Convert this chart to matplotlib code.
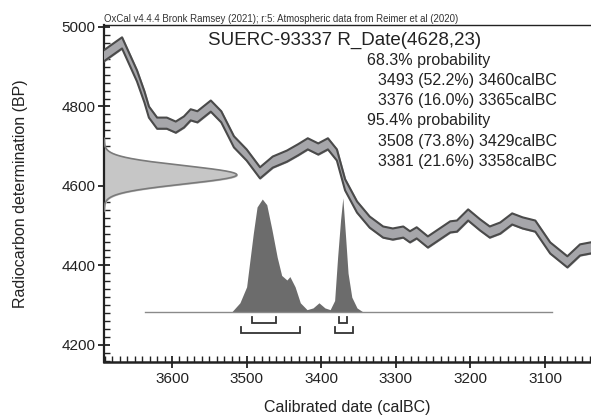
import numpy as np
import matplotlib
matplotlib.use("Agg")
import matplotlib.pyplot as plt
from matplotlib.ticker import MultipleLocator

plt.rcParams['font.family'] = ['Liberation Sans', 'DejaVu Sans']

# ---------------- data ----------------
# Calibration curve (IntCal20): calBC, BP centre
curve_bc = [3691, 3667, 3647, 3637, 3631, 3620, 3607, 3595, 3584, 3575, 3566,
            3548, 3534, 3517, 3500, 3482, 3465, 3446, 3431, 3418, 3404, 3391,
            3379, 3368, 3352, 3335, 3317, 3304, 3290, 3281, 3272, 3257, 3227,
            3218, 3203, 3187, 3174, 3160, 3144, 3130, 3113, 3093, 3070, 3053,
            3039]
curve_bp = [4928, 4960, 4877, 4824, 4786, 4758, 4758, 4748, 4761, 4779, 4774,
            4801, 4774, 4711, 4678, 4633, 4660, 4675, 4691, 4706, 4693, 4706,
            4678, 4603, 4547, 4509, 4484, 4479, 4484, 4472, 4482, 4459, 4497,
            4499, 4527, 4502, 4484, 4494, 4517, 4507, 4499, 4444, 4409, 4439,
            4444]
curve_err = 14

# Radiocarbon measurement
r_mean = 4628
r_sd = 23

# Posterior (calibrated) distribution, relative height
post_bc = [3636, 3520, 3509, 3500, 3496, 3491, 3486, 3479, 3473, 3466, 3459,
           3453, 3446, 3442, 3435, 3428, 3419, 3411, 3403, 3395, 3388, 3382,
           3378, 3374, 3371, 3367, 3364, 3359, 3352, 3344, 3091]
post_p = [0, 0, 0.08, 0.22, 0.43, 0.69, 0.92, 0.99, 0.94, 0.72, 0.48,
          0.32, 0.28, 0.31, 0.22, 0.08, 0.02, 0.035, 0.08, 0.035, 0.02, 0.1,
          0.48, 0.81, 1.0, 0.63, 0.34, 0.13, 0.035, 0, 0]

# Probability ranges
r68 = [(3493, 3460), (3376, 3365)]
r95 = [(3508, 3429), (3381, 3358)]
r68_pct = [52.2, 16.0]
r95_pct = [73.8, 21.6]

title = "SUERC-93337 R_Date(4628,23)"
header = "OxCal v4.4.4 Bronk Ramsey (2021); r:5: Atmospheric data from Reimer et al (2020)"

# ---------------- plot ----------------
W, H = 591, 415
fig = plt.figure(figsize=(W/100, H/100), dpi=100)
ax = fig.add_axes([104/W, 53/H, 487/W, 337/H])
ax.set_xlim(3691.2, 3038.3)
ax.set_ylim(4157, 5005)

# measurement gaussian on the y-axis
yy = np.linspace(r_mean - 4*r_sd, r_mean + 4*r_sd, 300)
g = np.exp(-0.5*((yy - r_mean)/r_sd)**2)
xl = 3691.2
ax.fill_betweenx(yy, xl, xl - 178*g, color='#c6c6c6', zorder=2)
ax.plot(xl - 178*g, yy, color='#7a7a7a', lw=1.2, zorder=3)

# calibration curve band
cb = np.array(curve_bc); cp = np.array(curve_bp)
ax.fill_between(cb, cp - curve_err, cp + curve_err, color='#a6a6aa', zorder=3)
ax.plot(cb, cp + curve_err, color='#4a4a4a', lw=1.5, zorder=4,
        solid_joinstyle='round')
ax.plot(cb, cp - curve_err, color='#4a4a4a', lw=1.5, zorder=4,
        solid_joinstyle='round')

# posterior distribution
base = 4283
scale = 287
pb = np.array(post_bc); pp = np.array(post_p)
ax.fill_between(pb, base, base + scale*pp, color='#6c6c6c', lw=0, zorder=3)
ax.plot([post_bc[0], post_bc[-1]], [base, base], color='#8a8a8a', lw=1.0, zorder=3)

# range brackets
def bracket(a, b, ytop, ybot):
    ax.plot([a, a, b, b], [ytop, ybot, ybot, ytop], color='#333333', lw=1.3,
            solid_joinstyle='miter', zorder=4)
for a, b in r68:
    bracket(a, b, 4269, 4255)
for a, b in r95:
    bracket(a, b, 4246, 4231)

# texts
tc = '#222222'
fig.text(208/W, 1 - 40/H, title, fontsize=13.5, color=tc, va='center', ha='left')
lines = ["68.3% probability"]
for (a, b), p in zip(r68, r68_pct):
    lines.append("%d (%.1f%%) %dcalBC" % (a, p, b))
lines.append("95.4% probability")
for (a, b), p in zip(r95, r95_pct):
    lines.append("%d (%.1f%%) %dcalBC" % (a, p, b))
for i, s in enumerate(lines):
    indent = 0 if 'probability' in s else 11
    fig.text((367 + indent)/W, 1 - (60 + 20.3*i)/H, s,
             fontsize=11.5, color=tc, va='center', ha='left')

fig.text(104/W, 1 - 24/H, header, fontsize=6.9, color='#333333',
         ha='left', va='bottom')

ax.set_xlabel("Calibrated date (calBC)", fontsize=11.5, color=tc, labelpad=10)
ax.set_ylabel("Radiocarbon determination (BP)", fontsize=11.5, color=tc, labelpad=24)

# spines and ticks
ax.spines['right'].set_visible(False)
ax.spines['top'].set_linewidth(1.0)
ax.spines['left'].set_linewidth(1.6)
ax.spines['bottom'].set_linewidth(1.8)
for s in ax.spines.values():
    s.set_color('#222222')
ax.xaxis.set_major_locator(MultipleLocator(100))
ax.xaxis.set_minor_locator(MultipleLocator(10))
ax.yaxis.set_major_locator(MultipleLocator(200))
ax.yaxis.set_minor_locator(MultipleLocator(20))
ax.tick_params(which='major', direction='inout', length=8, width=1.3,
               labelsize=11, labelcolor=tc, color='#222222')
ax.tick_params(which='minor', direction='in', length=4, width=1.0, color='#222222')
ax.tick_params(axis='x', which='major', pad=3)
ax.tick_params(axis='y', which='major', pad=2)
ax.tick_params(top=False, right=False, which='both')

fig.savefig("out.png", dpi=100)
